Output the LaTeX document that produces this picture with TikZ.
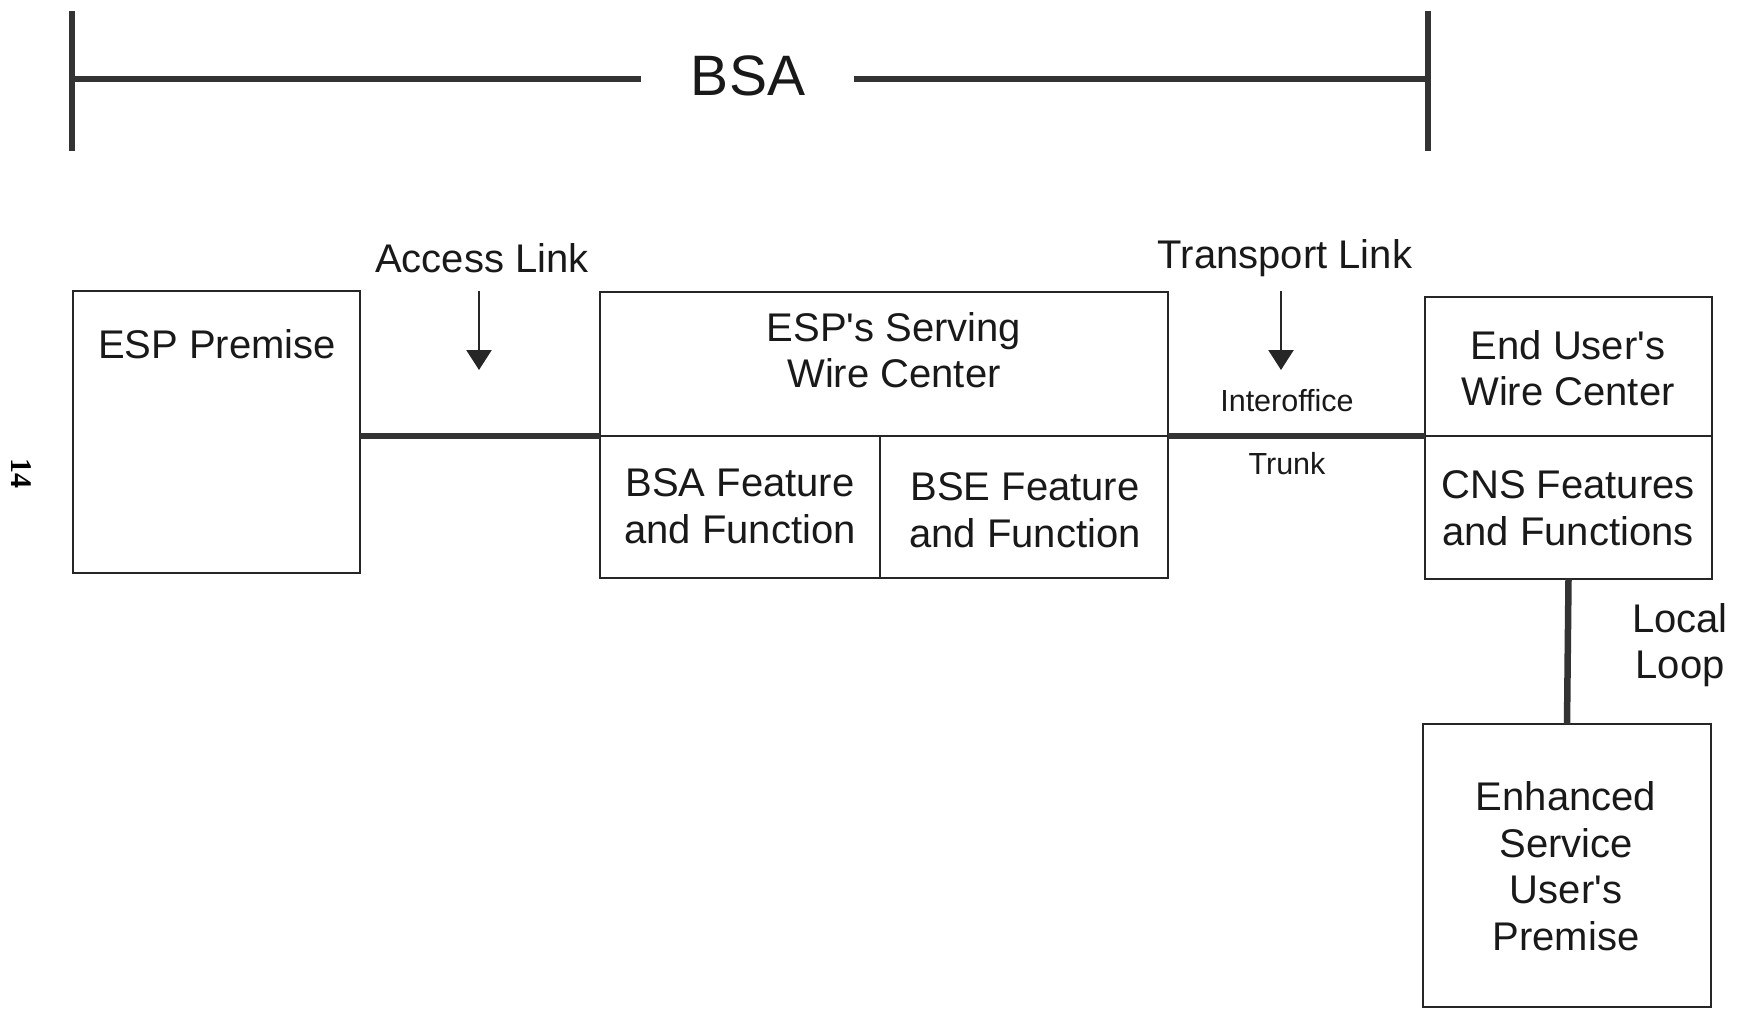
\documentclass[tikz,border=0pt]{standalone}
\usepackage{fontspec}
\setmainfont{Liberation Sans}
\newfontfamily\pagenumfont{Liberation Serif}
\usetikzlibrary{arrows.meta}

\tikzset{
  box/.style={draw=black!85, line width=2.4pt, inner sep=0pt, outer sep=0pt, anchor=north west},
  txt/.style={font=\fontsize{40}{46.5}\selectfont, align=center, inner sep=0pt, text=black!90},
  smalltxt/.style={font=\fontsize{30.5}{36}\selectfont, inner sep=0pt, text=black!90},
  thickline/.style={draw=black!80, line width=6.5pt},
  pointer/.style={draw=black!85, line width=2.4pt, -{Triangle[width=25pt,length=20pt]}},
}

\begin{document}
\begin{tikzpicture}[x=1pt, y=-1pt]
  \useasboundingbox (0,0) rectangle (1742,1009);

  % BSA span bracket
  \coordinate (bl) at (72,79);
  \coordinate (br) at (1428,79);
  \node[font=\fontsize{57}{60}\selectfont, inner sep=0pt, text=black!90] (bsa) at (748,76) {BSA};
  \draw[thickline] (72,11) -- (72,151);
  \draw[thickline] (1428,11) -- (1428,151);
  \coordinate (gapl) at (641,79);
  \coordinate (gapr) at (854,79);
  \draw[thickline] (bl) -- (gapl);
  \draw[thickline] (gapr) -- (br);

  % ESP premise
  \node[box, minimum width=287pt, minimum height=282pt] (esp) at (73,291) {};
  \node[txt] (esplbl) at (217,344) {ESP Premise};

  % ESP's serving wire center and its two feature cells
  \node[box, minimum width=568pt, minimum height=144pt] (swc) at (600,292) {};
  \node[box, minimum width=280pt, minimum height=142pt] (bsaf) at (600,436) {};
  \node[box, minimum width=288pt, minimum height=142pt] (bsef) at (880,436) {};
  \node[txt] (swclbl) at (894,350) {ESP\textquotesingle s Serving\\Wire Center};
  \node[txt] (bsalbl) at (740,506) {BSA Feature\\and Function};
  \node[txt] (bselbl) at (1025,510) {BSE Feature\\and Function};

  % End user's wire center
  \node[box, minimum width=287pt, minimum height=139pt] (euwc) at (1425,297) {};
  \node[box, minimum width=287pt, minimum height=143pt] (cns) at (1425,436) {};
  \node[txt] (euwclbl) at (1568,368) {End User\textquotesingle s\\Wire Center};
  \node[txt] (cnslbl) at (1568,508) {CNS Features\\and Functions};

  % Enhanced service user's premise
  \node[box, minimum width=288pt, minimum height=283pt] (esup) at (1423,724) {};
  \node[txt] (esuplbl) at (1566,866) {Enhanced\\Service\\User\textquotesingle s\\Premise};

  % Links between the sites
  \draw[thickline] (esp.east |- bsaf.north west) -- (bsaf.north west);
  \draw[thickline] (bsef.north east) -- (cns.north west);
  \draw[thickline] (cns.south) -- (esup.north);

  % Link labels and pointers
  \node[txt] (access) at (482,258) {Access Link};
  \coordinate (accesstop) at (479,291);
  \coordinate (accesstip) at (479,370);
  \draw[pointer] (accesstop) -- (accesstip);

  \node[txt] (transport) at (1285,258) {Transport Link};
  \coordinate (transtop) at (1281,291);
  \coordinate (transtip) at (1281,370);
  \draw[pointer] (transtop) -- (transtip);

  \node[smalltxt] (interoffice) at (1287,401) {Interoffice};
  \node[smalltxt] (trunk) at (1287,464) {Trunk};

  \node[txt] (loop) at (1680,645) {Local\\Loop};

  % Page number
  \node[font=\pagenumfont\bfseries\fontsize{30}{32}\selectfont, rotate=-90, inner sep=0pt] (pagenum) at (21,473) {14};
\end{tikzpicture}
\end{document}
